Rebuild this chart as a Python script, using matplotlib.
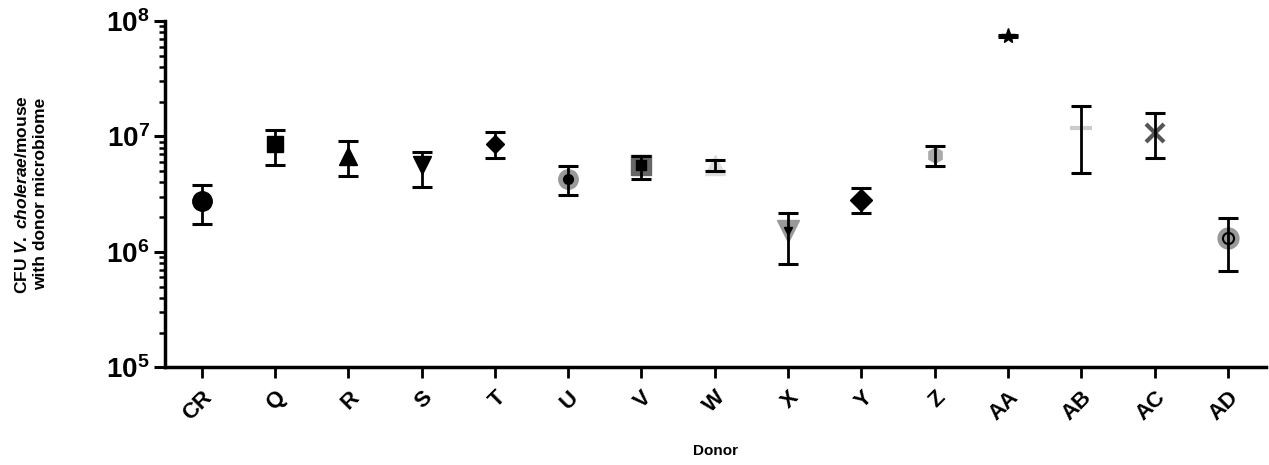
import matplotlib
matplotlib.use("Agg")
import matplotlib.pyplot as plt
import numpy as np

plt.rcParams['font.family'] = ['Liberation Sans', 'DejaVu Sans']
plt.rcParams['mathtext.fontset'] = 'custom'
plt.rcParams['mathtext.rm'] = 'Liberation Sans:bold'
plt.rcParams['mathtext.bf'] = 'Liberation Sans:bold'
plt.rcParams['mathtext.it'] = 'Liberation Sans:italic:bold'

donors = ["CR", "Q", "R", "S", "T", "U", "V", "W", "X", "Y", "Z", "AA", "AB", "AC", "AD"]
cfu_mean = [2.74e6, 8.6e6, 6.7e6, 5.7e6, 8.6e6, 4.27e6, 5.6e6, 5.6e6, 1.51e6, 2.83e6,
            6.93e6, 7.42e7, 1.18e7, 1.08e7, 1.33e6]
cfu_upper = [3.76e6, 1.14e7, 9.2e6, 7.3e6, 1.09e7, 5.5e6, 6.75e6, 6.2e6, 2.15e6, 3.57e6,
             8.3e6, 7.6e7, 1.85e7, 1.58e7, 1.96e6]
cfu_lower = [1.74e6, 5.65e6, 4.5e6, 3.64e6, 6.5e6, 3.08e6, 4.27e6, 4.97e6, 7.85e5, 2.15e6,
             5.5e6, 7.25e7, 4.84e6, 6.44e6, 6.88e5]

# marker, colour, size, optional inner marker
styles = [
    ("o", "black", 14, None),
    ("s", "black", 12, None),
    ("^", "black", 13, None),
    ("v", "black", 13, None),
    ("D", "black", 9, None),
    ("o", "#999999", 14, ("o", "black", 7)),
    ("s", "#666666", 14, ("s", "black", 7)),
    ("^", "#dddddd", 14, None),
    ("v", "#999999", 16, ("v", "black", 6)),
    ("D", "black", 11, None),
    ("h", "#aaaaaa", 11, None),
    ("*", "black", 11, None),
    ("_", "#cccccc", 16, None),
    ("x", "#555555", 13, None),
    ("o", "#999999", 15, ("o", "none", 8)),
]

fig = plt.figure(figsize=(12.69, 4.65), dpi=100)
ax = fig.add_axes([0.130, 0.210, 0.8676, 0.745])

x = np.arange(len(donors))
for i in x:
    m, c, s, inner = styles[i]
    if m in ("x", "_"):
        ax.plot(i, cfu_mean[i], marker=m, color=c, markersize=s, mew=3, zorder=3, ls="none")
    else:
        ax.plot(i, cfu_mean[i], marker=m, color=c, markersize=s, mec=c, ls="none", zorder=3)
    if inner is not None:
        im, ic, isz = inner
        if ic == "none":
            ax.plot(i, cfu_mean[i], marker=im, mfc="none", mec="black", markersize=isz,
                    mew=1.5, ls="none", zorder=5)
        else:
            ax.plot(i, cfu_mean[i], marker=im, color=ic, markersize=isz, ls="none", zorder=5)
    yerr = [[cfu_mean[i] - cfu_lower[i]], [cfu_upper[i] - cfu_mean[i]]]
    ax.errorbar(i, cfu_mean[i], yerr=yerr, fmt="none", ecolor="black", elinewidth=2,
                capsize=7, capthick=2.2, zorder=4)

ax.set_yscale("log")
ax.set_ylim(1e5, 1e8)
ax.set_xlim(-0.5, 14.52)
ax.set_yticks([1e5, 1e6, 1e7, 1e8])
ax.set_yticklabels([r"$\mathbf{10^{5}}$", r"$\mathbf{10^{6}}$", r"$\mathbf{10^{7}}$",
                    r"$\mathbf{10^{8}}$"], fontsize=20)
ax.yaxis.set_minor_locator(matplotlib.ticker.LogLocator(base=10, subs=np.arange(2, 10)))
ax.yaxis.set_minor_formatter(matplotlib.ticker.NullFormatter())
ax.set_xticks(x)
ax.set_xticklabels(donors, rotation=45, ha="right", rotation_mode="anchor",
                   fontsize=16, fontweight="bold")

for side in ("top", "right"):
    ax.spines[side].set_visible(False)
for side in ("left", "bottom"):
    ax.spines[side].set_linewidth(2.5)

ax.tick_params(axis="y", which="major", length=8, width=2.2, direction="out", pad=3)
ax.tick_params(axis="y", which="minor", length=4, width=1.8, direction="out")
ax.tick_params(axis="x", which="major", length=8, width=2, direction="out", pad=6)

ax.set_xlabel("Donor", fontsize=11, fontweight="bold", labelpad=14)
ax.set_ylabel("CFU $V.\\ cholerae$/mouse\nwith donor microbiome", fontsize=12.5,
              fontweight="bold", labelpad=42)

fig.savefig("out.png", dpi=100)
